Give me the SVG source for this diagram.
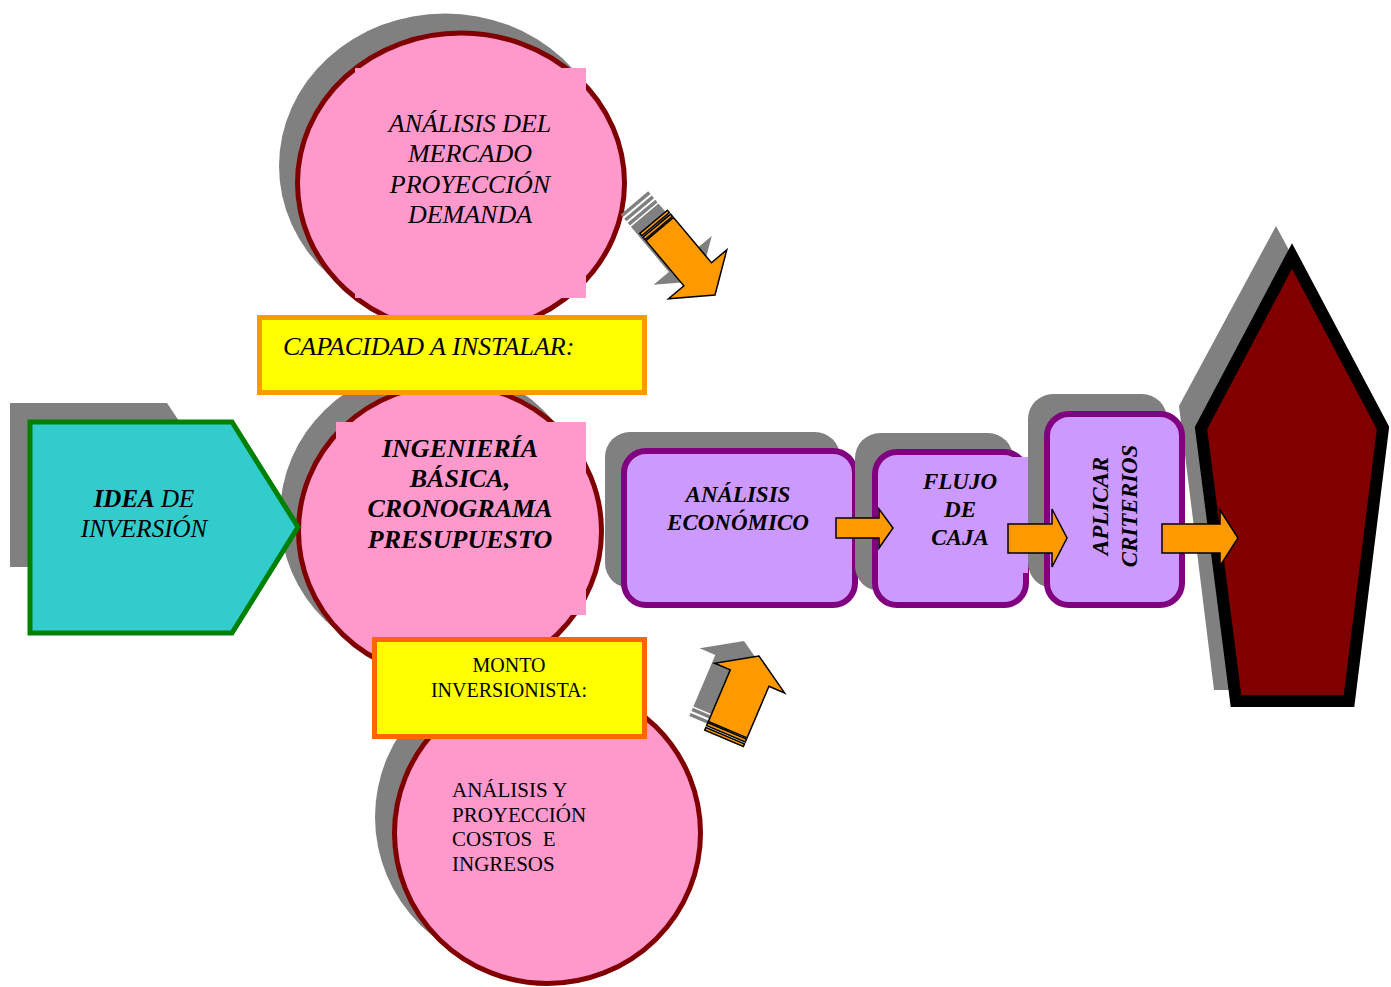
<svg xmlns="http://www.w3.org/2000/svg" width="1391" height="987" viewBox="0 0 1391 987">
<defs>
<style>
.sh{fill:#808080}
.circ{fill:#FF99CC;stroke:#800000;stroke-width:5}
.pinkbox{fill:#FF99CC}
.box{fill:#CC99FF;stroke:#800080;stroke-width:6}
.arr{fill:#FF9900;stroke:#000;stroke-width:1.5;stroke-linejoin:miter}
.t{font-family:"Liberation Serif","Times New Roman",serif;fill:#000}
.it{font-style:italic}
.bi{font-style:italic;font-weight:bold}
</style>
</defs>
<rect width="1391" height="987" fill="#fff"/>

<g id="node-mercado">
<ellipse class="sh" cx="445" cy="166" rx="166" ry="152.5"/>
<ellipse class="circ" cx="461" cy="183" rx="163.5" ry="150"/>
<rect class="pinkbox" x="355" y="68" width="231" height="230"/>
<text class="t it" font-size="26" text-anchor="middle"><tspan x="470" y="132">ANÁLISIS DEL</tspan><tspan x="470" y="162">MERCADO</tspan><tspan x="470" y="193">PROYECCIÓN</tspan><tspan x="470" y="223">DEMANDA</tspan></text>
</g>

<g id="node-ingenieria">
<ellipse class="sh" cx="434" cy="515" rx="154" ry="149"/>
<ellipse class="circ" cx="450" cy="531" rx="151.5" ry="146.5"/>
<rect class="pinkbox" x="336" y="422" width="250" height="193"/>
<text class="t bi" font-size="26" text-anchor="middle"><tspan x="460" y="457">INGENIERÍA</tspan><tspan x="460" y="487">BÁSICA,</tspan><tspan x="460" y="517">CRONOGRAMA</tspan><tspan x="460" y="548">PRESUPUESTO</tspan></text>
</g>

<g id="node-capacidad">
<rect x="259.5" y="317.5" width="385" height="75" fill="#FFFF00" stroke="#FF9900" stroke-width="5"/>
<text class="t it" font-size="26" x="283" y="355">CAPACIDAD A INSTALAR:</text>
</g>

<g id="node-costos">
<ellipse class="sh" cx="530.5" cy="817" rx="155.5" ry="153"/>
<ellipse class="circ" cx="547.5" cy="833" rx="153" ry="150.5"/>
<text class="t" font-size="21"><tspan x="452" y="797">ANÁLISIS Y</tspan><tspan x="452" y="822">PROYECCIÓN</tspan><tspan x="452" y="846">COSTOS&#160; E</tspan><tspan x="452" y="871">INGRESOS</tspan></text>
</g>

<g id="node-monto">
<rect x="374.5" y="639.5" width="270" height="97" fill="#FFFF00" stroke="#FF6600" stroke-width="5"/>
<text class="t" font-size="20" text-anchor="middle"><tspan x="509" y="672">MONTO</tspan><tspan x="509" y="697">INVERSIONISTA:</tspan></text>
</g>

<g id="node-idea">
<polygon class="sh" points="10,403 167,403 185,430 185,567 10,567"/>
<polygon points="30,422 232,422 298,527 232,633 30,633" fill="#33CCCC" stroke="#008000" stroke-width="5"/>
<text class="t it" font-size="25" text-anchor="middle"><tspan x="144" y="507"><tspan font-weight="bold">IDEA</tspan> DE</tspan><tspan x="144" y="537">INVERSIÓN</tspan></text>
</g>

<g id="node-resultado">
<polygon class="sh" points="1276,226 1374,408 1338,690 1214,690 1179,406"/>
<polygon points="1292,256 1383,428 1349,701 1236,701 1201,428" fill="#800000" stroke="#000" stroke-width="12" stroke-linejoin="miter"/>
</g>

<g id="node-economico">
<rect class="sh" x="605" y="432" width="235" height="156" rx="25"/>
<rect class="box" x="624" y="451" width="231" height="154" rx="22"/>
<text class="t bi" font-size="23" text-anchor="middle"><tspan x="738" y="502">ANÁLISIS</tspan><tspan x="738" y="530">ECONÓMICO</tspan></text>
</g>

<g id="node-flujo">
<rect class="sh" x="855" y="433" width="158" height="158" rx="25"/>
<rect class="box" x="875" y="452" width="151" height="153" rx="22"/>
<rect x="892" y="457" width="136" height="116" fill="#CC99FF"/>
<text class="t bi" font-size="23" text-anchor="middle"><tspan x="960" y="489">FLUJO</tspan><tspan x="960" y="517">DE</tspan><tspan x="960" y="545">CAJA</tspan></text>
</g>

<g id="node-criterios">
<rect class="sh" x="1028" y="394" width="139" height="194" rx="25"/>
<rect class="box" x="1047" y="414" width="135" height="191" rx="22"/>
<text class="t bi" font-size="23" text-anchor="middle" transform="translate(1108,506) rotate(-90)"><tspan x="0" y="0">APLICAR</tspan><tspan x="0" y="29">CRITERIOS</tspan></text>
</g>

<g id="connectors">
<path class="arr" d="M836,518 H879 V509 L893,528 L879,548 V538 H836 Z"/>
<path class="arr" d="M1008,524 H1052 V509 L1067,538 L1052,567 V553 H1008 Z"/>
<path class="arr" d="M1162,524 H1220 V510 L1238,538 L1220,566 V553 H1162 Z"/>

<g transform="translate(700,281) rotate(50)">
<path class="sh" d="M0,0 L-27,-38 L-27,-18 L-86,-18 L-86,18 L-27,18 L-27,38 Z"/>
<rect class="sh" x="-91" y="-18" width="3.5" height="36"/>
<rect class="sh" x="-96.5" y="-18" width="3.5" height="36"/>
<rect class="sh" x="-102" y="-18" width="3.5" height="36"/>
</g>
<g transform="translate(715,295) rotate(50)">
<path class="arr" d="M0,0 L-27,-38 L-27,-18 L-86,-18 L-86,18 L-27,18 L-27,38 Z"/>
<rect class="arr" x="-90.5" y="-18" width="3" height="36"/>
<rect class="arr" x="-95.5" y="-18" width="3" height="36"/>
</g>

<g transform="translate(744,641) rotate(-67)">
<path class="sh" d="M0,0 L-24,-38 L-24,-21 L-80,-21 L-80,21 L-24,21 L-24,38 Z"/>
<rect class="sh" x="-85" y="-21" width="3.5" height="42"/>
<rect class="sh" x="-90.5" y="-21" width="3.5" height="42"/>
</g>
<g transform="translate(759,656) rotate(-67)">
<path class="arr" d="M0,0 L-24,-38 L-24,-21 L-80,-21 L-80,21 L-24,21 L-24,38 Z"/>
<rect class="arr" x="-84.5" y="-21" width="3" height="42"/>
<rect class="arr" x="-89.5" y="-21" width="3" height="42"/>
</g>
</g>
</svg>
